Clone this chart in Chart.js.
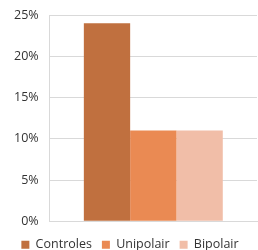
<!DOCTYPE html>
<html><head><meta charset="utf-8">
<script src="https://cdn.jsdelivr.net/npm/chart.js@4/dist/chart.umd.min.js"></script>
<style>html,body{margin:0;padding:0;background:#fff}#w{width:258px;height:250px}</style>
</head><body><div id="w"><canvas id="c"></canvas></div>
<script>
const categories = [''];
const seriesNames = ['Controles', 'Unipolair', 'Bipolair'];
const controles = [24];
const unipolair = [11];
const bipolair = [11];
const yTicks = [0, 5, 10, 15, 20, 25];
const colors = ['#c0703f', '#ea8a53', '#f1bea8'];

const font = {family: "'Open Sans', 'Noto Sans', sans-serif", size: 13};
new Chart(document.getElementById('c'), {
  type: 'bar',
  data: {
    labels: categories,
    datasets: [controles, unipolair, bipolair].map((d, i) => ({
      label: seriesNames[i], data: d, backgroundColor: colors[i],
      barPercentage: 1, categoryPercentage: 0.67
    }))
  },
  options: {
    responsive: true, maintainAspectRatio: false, animation: false,
    layout: {padding: {left: 3, right: 1, top: 15, bottom: -11}},
    plugins: {
      tooltip: {enabled: false},
      legend: {position: 'bottom', labels: {boxWidth: 8, boxHeight: 8, color: '#333333', font: {...font, size: 12.5}, padding: 10}}
    },
    scales: {
      x: {ticks: {display: true, font: {size: 1}, padding: 3, callback: () => ' '}, grid: {display: false, drawTicks: false}, border: {display: true, color: '#d9d9d9'}},
      y: {min: 0, max: 25, afterBuildTicks: a => { a.ticks = yTicks.map(v => ({value: v})); },
        afterFit: a => { a.paddingTop = 0; a.paddingBottom = 0; },
        ticks: {color: '#333333', font: {...font, size: 12.5}, padding: 11, callback: v => v + '%'},
        grid: {color: '#d9d9d9', drawTicks: false}, border: {display: true, color: '#d9d9d9'}}
    }
  }
});
</script></body></html>
